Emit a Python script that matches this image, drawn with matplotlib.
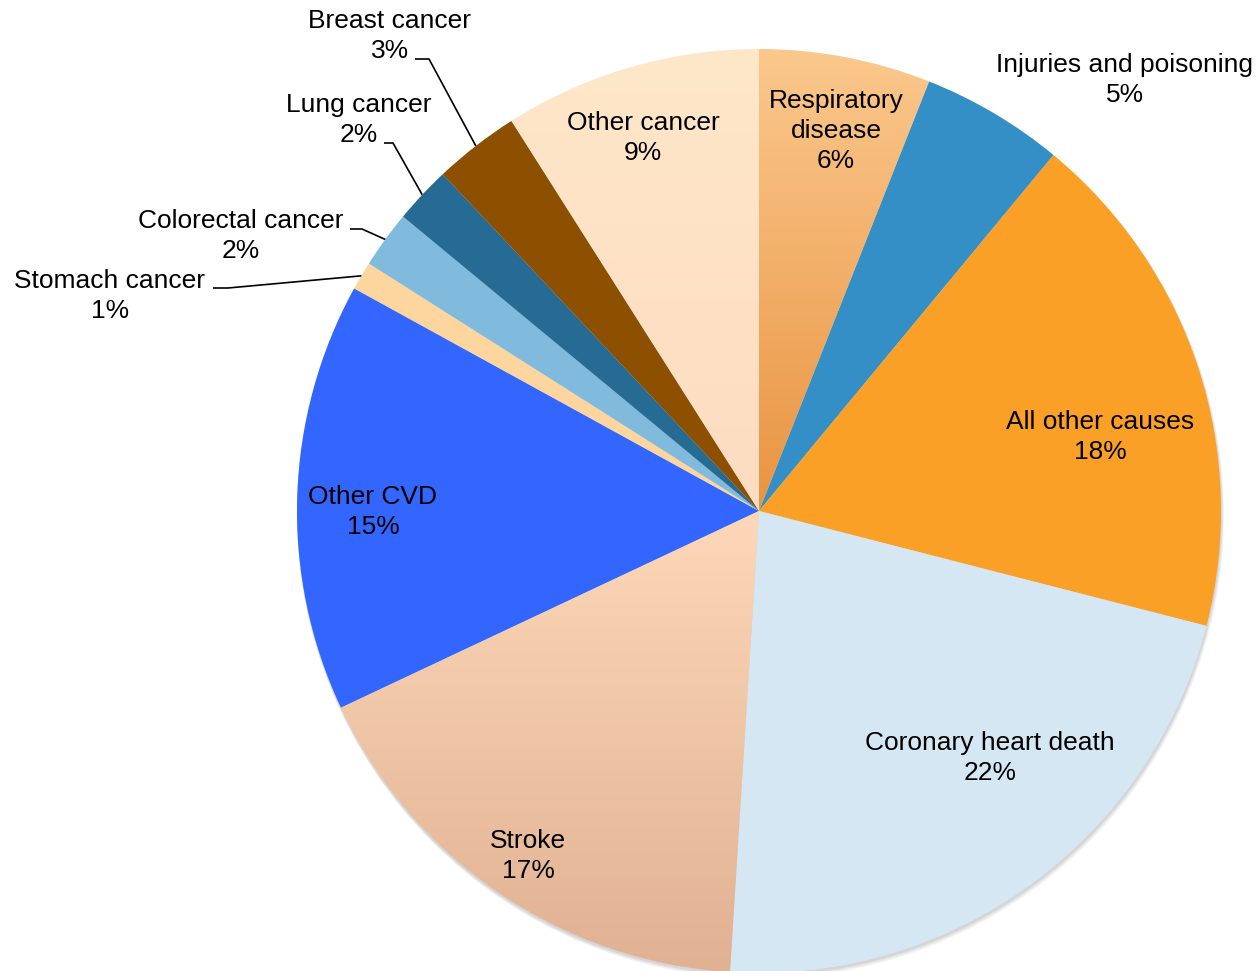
import numpy as np
import matplotlib
matplotlib.use("Agg")
import matplotlib.pyplot as plt
from matplotlib.patches import Circle
from matplotlib.colors import LinearSegmentedColormap

# ---- data ----
categories = ["Respiratory\ndisease", "Injuries and poisoning", "All other causes",
              "Coronary heart death", "Stroke", "Other CVD", "Stomach cancer",
              "Colorectal cancer", "Lung cancer", "Breast cancer", "Other cancer"]
values = [6, 5, 18, 22, 17, 15, 1, 2, 2, 3, 9]
colors = ["#F7B677", "#338FC5", "#FBA026", "#D4E7F3", "#F0C7A6", "#3366FF",
          "#FDD59E", "#80BBDE", "#266B94", "#8C5000", "#FFE4C6"]
gradients = {0: ("#FBC88D", "#E89441"), 4: ("#FDD8B8", "#E0B192"),
             10: ("#FFE7C9", "#FDDCC1")}

# ---- layout ----
W, H = 1259, 971
cx, cy, R = 759, 511, 462
plt.rcParams['font.family'] = ['Liberation Sans', 'DejaVu Sans']
fig = plt.figure(figsize=(W / 100, H / 100), dpi=100)
ax = fig.add_axes([0, 0, 1, 1])
ax.set_xlim(-cx / R, (W - cx) / R)
ax.set_ylim(-(H - cy) / R, cy / R)
ax.axis('off')

def px(x, y):
    return ((x - cx) / R, (cy - y) / R)

# soft shadow
for i, (dx, dy, a) in enumerate([(1.5, 4, 0.10), (1, 3, 0.12), (0.5, 2, 0.15)]):
    sx, sy = px(cx + dx, cy + dy)
    ax.add_patch(Circle((sx, sy), 1 + 0.5 / R * (3 - i), color='#808080',
                        alpha=a, lw=0, zorder=0))

wedges, _ = ax.pie(values, colors=colors, startangle=90, counterclock=False,
                   radius=1, center=(0, 0), wedgeprops=dict(linewidth=0),
                   frame=True)
ax.set_xlim(-cx / R, (W - cx) / R)
ax.set_ylim(-(H - cy) / R, cy / R)
ax.set_aspect('auto')
ax.axis('off')

for idx, (c_top, c_bot) in gradients.items():
    w = wedges[idx]
    path = w.get_path()
    verts = w.get_transform().transform(path.vertices)
    dv = ax.transData.inverted().transform(verts)
    y0, y1 = dv[:, 1].min(), dv[:, 1].max()
    x0, x1 = dv[:, 0].min(), dv[:, 0].max()
    cmap = LinearSegmentedColormap.from_list("g", [c_bot, c_top])
    grad = np.linspace(0, 1, 256).reshape(-1, 1)
    im = ax.imshow(grad, cmap=cmap, origin='lower', extent=(x0, x1, y0, y1),
                   aspect='auto', zorder=w.get_zorder() + 0.1, interpolation='bilinear')
    im.set_clip_path(w)
    w.set_facecolor('none')

ax.set_xlim(-cx / R, (W - cx) / R)
ax.set_ylim(-(H - cy) / R, cy / R)

fs = 19
ls = 1.34
pct = [f"{v}%" for v in values]
inside_pos = {0: (836, 131), 2: (1100, 437), 3: (990, 758), 4: (528, 856),
              5: (373, 512), 10: (643, 138), 1: (1125, 80)}
for i, (x, y) in inside_pos.items():
    ax.text(*px(x, y), f"{categories[i]}\n{pct[i]}", ha='center', va='center',
            fontsize=fs, linespacing=ls, zorder=10)

# outside labels with leader lines: (label center, line start, elbow)
outside = {9: ((390, 36), (415, 59), (429, 59)),
           8: ((359, 120), (384, 143), (393, 143)),
           7: ((241, 236), (350, 229), (362, 229)),
           6: ((110, 296), (213, 288), (228, 288))}
cum = np.cumsum([0] + values)
total = sum(values)
for i, ((lx, ly), s, e) in outside.items():
    ax.text(*px(lx, ly), f"{categories[i]}\n{pct[i]}", ha='center', va='center',
            fontsize=fs, linespacing=ls, zorder=10)
    mid = (cum[i] + cum[i + 1]) / 2 / total * 2 * np.pi
    ex, ey = np.sin(mid), np.cos(mid)
    p1, p2 = px(*s), px(*e)
    ax.plot([p1[0], p2[0], ex], [p1[1], p2[1], ey], color='black', lw=1.2,
            zorder=10, solid_capstyle='butt')

fig.savefig("out.png", dpi=100, facecolor='white')
